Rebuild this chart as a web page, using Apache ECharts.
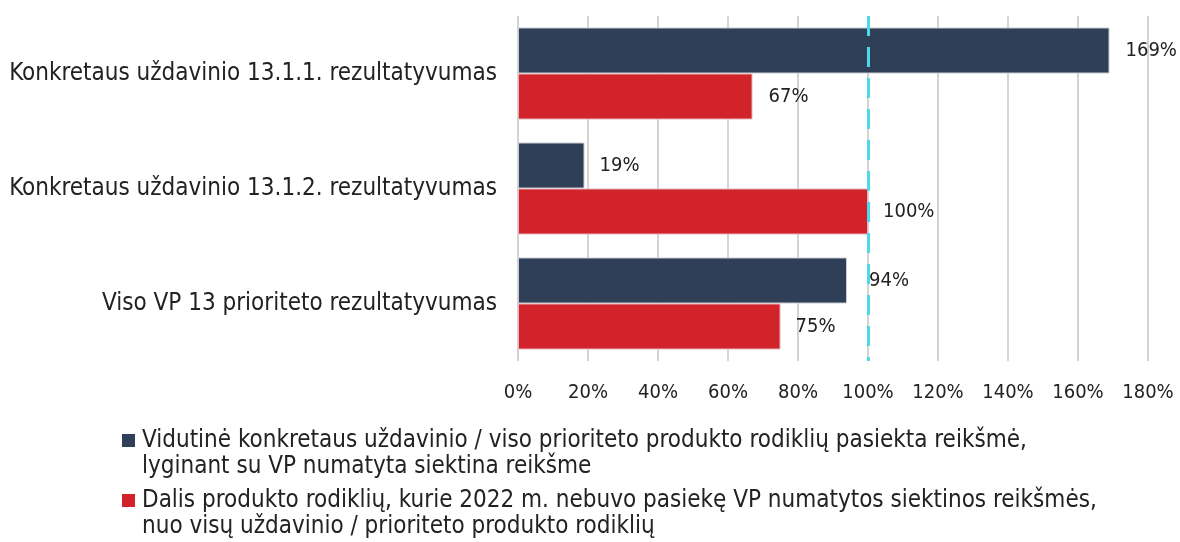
<!DOCTYPE html>
<html>
<head>
<meta charset="utf-8">
<script src="https://cdn.jsdelivr.net/npm/echarts@6/dist/echarts.min.js"></script>
<style>
  html, body { margin: 0; padding: 0; background: #fff; }
  #grafikas { width: 1180px; height: 542px; }
</style>
</head>
<body>
<div id="grafikas"></div>
<script>
// Duomenys
const kategorijos = [
    'Konkretaus uždavinio 13.1.1. rezultatyvumas',
    'Konkretaus uždavinio 13.1.2. rezultatyvumas',
    'Viso VP 13 prioriteto rezultatyvumas'
];
const pasiektaReiksme = [169, 19, 94];
const nepasiekeDalis = [67, 100, 75];
const serijuPavadinimai = [
    'Vidutinė konkretaus uždavinio / viso prioriteto produkto rodiklių pasiekta reikšmė,\nlyginant su VP numatyta siektina reikšme',
    'Dalis produkto rodiklių, kurie 2022 m. nebuvo pasiekę VP numatytos siektinos reikšmės,\nnuo visų uždavinio / prioriteto produkto rodiklių'
];
const etikeciuAtstumai = [[16, 15, 22], [16, 15, 15]];

const sriftas = '"DejaVu Sans Condensed", "DejaVu Sans", sans-serif';

const grafikas = echarts.init(document.getElementById('grafikas'));

function suEtiketemis(reiksmes, atstumai) {
    return reiksmes.map((v, i) => ({ value: v, label: { distance: atstumai[i] } }));
}

const opcijos = {
    animation: false,
    textStyle: { fontFamily: sriftas },
    grid: { left: 518, right: 32, top: 16, bottom: 181 },
    legend: {
        orient: 'vertical',
        left: 122,
        top: 428,
        height: 140,
        padding: 0,
        itemWidth: 13,
        itemHeight: 52,
        itemGap: 8,
        // kvadratėlis lygiuojamas su pirma teksto eilute
        icon: 'path://M0,6L13,6L13,19L0,19Z M0,0 M0,52',
        itemStyle: { borderWidth: 0 },
        textStyle: { fontFamily: sriftas, fontSize: 24, color: '#222', lineHeight: 26, padding: [0, 0, 0, 2] },
        data: serijuPavadinimai
    },
    xAxis: {
        type: 'value',
        min: 0,
        max: 180,
        interval: 20,
        axisLabel: { formatter: '{value}%', fontSize: 20, color: '#222', margin: 22 },
        axisLine: { show: false },
        axisTick: { show: false },
        splitLine: { lineStyle: { color: '#d4d4d4', width: 2 } }
    },
    yAxis: {
        type: 'category',
        inverse: true,
        data: kategorijos,
        axisLabel: { fontSize: 24, color: '#222', margin: 21 },
        axisLine: { show: false },
        axisTick: { show: false }
    },
    series: [
        {
            name: serijuPavadinimai[0],
            type: 'bar',
            barGap: '0%',
            barCategoryGap: '20%',
            itemStyle: { color: '#2E3F57', borderColor: '#c9ccd2', borderWidth: 1 },
            label: { show: true, position: 'right', formatter: '{c}%', fontSize: 20, color: '#222' },
            data: suEtiketemis(pasiektaReiksme, etikeciuAtstumai[0]),
            markLine: {
                silent: true,
                symbol: 'none',
                label: { show: false },
                lineStyle: { color: '#4DD9EC', type: [20, 11], width: 3 },
                data: [{ xAxis: 100 }]
            }
        },
        {
            name: serijuPavadinimai[1],
            type: 'bar',
            itemStyle: { color: '#D2232A', borderColor: '#e3b5b7', borderWidth: 1 },
            label: { show: true, position: 'right', formatter: '{c}%', fontSize: 20, color: '#222' },
            data: suEtiketemis(nepasiekeDalis, etikeciuAtstumai[1])
        }
    ]
};

grafikas.setOption(opcijos);
</script>
</body>
</html>
